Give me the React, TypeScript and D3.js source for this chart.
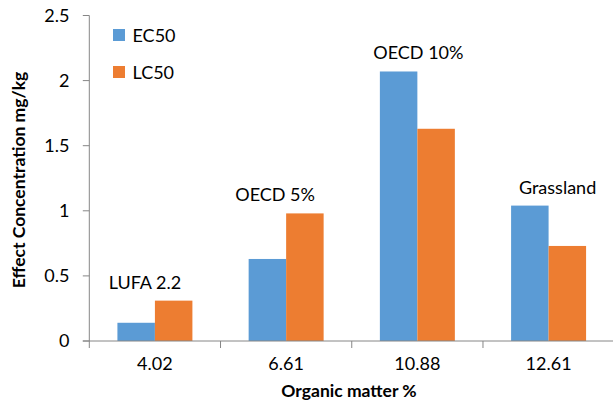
import React from "react";
import * as d3 from "d3";

// Soil types by organic matter content
const categories = ["4.02", "6.61", "10.88", "12.61"];
const soilNames = ["LUFA 2.2", "OECD 5%", "OECD 10%", "Grassland"];
const seriesNames = ["EC50", "LC50"];
const ec50 = [0.14, 0.63, 2.07, 1.04];
const lc50 = [0.31, 0.98, 1.63, 0.73];
const yTicks = [0, 0.5, 1, 1.5, 2, 2.5];

const colors = ["#5B9BD5", "#ED7D31"];
const axisColor = "#868686";
const font = "Lato, 'Open Sans', sans-serif";

// horizontal nudge of each soil-name label from its group centre
const nameShift = [-10, -11, 1, 9];

const W = 613;
const H = 406;
const left = 89.3;
const right = 614.2;
const top = 15.5;
const bottom = 341;

export default function App() {
  const series = [ec50, lc50];
  const x = d3.scaleBand<string>().domain(categories).range([left, right]).paddingInner(0).paddingOuter(0);
  const x1 = d3
    .scaleBand<string>()
    .domain(seriesNames)
    .range([0, x.bandwidth()])
    .paddingInner(0)
    .paddingOuter(0.75);
  const y = d3.scaleLinear().domain([0, 2.5]).range([bottom, top]);

  const tickEdges = categories.map((c) => x(c) as number).concat([right]);

  return (
    <div style={{ position: "fixed", left: 0, top: 0, width: W, height: H, background: "#fff" }}>
      <svg width={W} height={H} style={{ display: "block", fontFamily: font }}>
        <rect width={W} height={H} fill="#fff" />

        {/* bars */}
        {categories.map((c, i) => (
          <g key={c} transform={`translate(${x(c)},0)`}>
            {seriesNames.map((s, j) => (
              <rect
                key={s}
                x={x1(s)}
                y={y(series[j][i])}
                width={x1.bandwidth()}
                height={bottom - y(series[j][i])}
                fill={colors[j]}
              />
            ))}
          </g>
        ))}

        {/* y axis */}
        <line x1={left} x2={left} y1={top} y2={bottom} stroke={axisColor} strokeWidth={1} />
        {yTicks.map((t) => (
          <g key={t}>
            <line x1={left - 6.5} x2={left} y1={y(t)} y2={y(t)} stroke={axisColor} strokeWidth={1} />
            <text x={69.5} y={y(t)} dy="0.36em" textAnchor="end" fontSize={18} fill="#000">
              {t}
            </text>
          </g>
        ))}

        {/* x axis */}
        <line x1={left - 6.5} x2={right} y1={bottom} y2={bottom} stroke={axisColor} strokeWidth={1} />
        {tickEdges.map((e, i) => (
          <line key={i} x1={e} x2={e} y1={bottom} y2={bottom + 7} stroke={axisColor} strokeWidth={1} />
        ))}
        {categories.map((c) => (
          <text
            key={c}
            x={(x(c) as number) + x.bandwidth() / 2}
            y={370}
            textAnchor="middle"
            fontSize={18}
            fill="#000"
          >
            {c}
          </text>
        ))}

        {/* soil names above groups */}
        {categories.map((c, i) => (
          <text
            key={c}
            x={(x(c) as number) + x.bandwidth() / 2 + nameShift[i]}
            y={y(Math.max(ec50[i], lc50[i])) - 12}
            textAnchor="middle"
            fontSize={18}
            fill="#000"
          >
            {soilNames[i]}
          </text>
        ))}

        {/* axis titles */}
        <text x={349} y={397} textAnchor="middle" fontSize={17.5} fontWeight="bold" fill="#000">
          Organic matter %
        </text>
        <text
          transform={`translate(25,180) rotate(-90)`}
          textAnchor="middle"
          fontSize={17.5}
          fontWeight="bold"
          fill="#000"
        >
          Effect Concentration mg/kg
        </text>

        {/* legend */}
        {seriesNames.map((s, j) => (
          <g key={s} transform={`translate(113,${29 + j * 37})`}>
            <rect width={12} height={12} fill={colors[j]} />
            <text x={19.5} y={12.5} fontSize={18} fill="#000">
              {s}
            </text>
          </g>
        ))}
      </svg>
    </div>
  );
}
